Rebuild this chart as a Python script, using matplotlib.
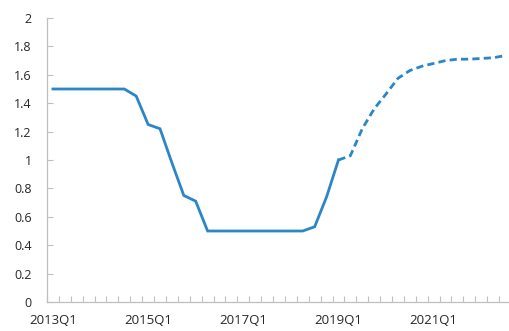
import matplotlib
matplotlib.use("Agg")
import matplotlib.pyplot as plt
from matplotlib.ticker import FixedLocator, FuncFormatter

plt.rcParams['font.family'] = ['Open Sans', 'DejaVu Sans']

# quarterly categories 2013Q1 .. 2022Q3
quarters = [f"{y}Q{q}" for y in range(2013, 2023) for q in range(1, 5)][:39]

# actual values (2013Q1 .. 2019Q1)
actual = [1.5, 1.5, 1.5, 1.5, 1.5, 1.5, 1.5, 1.45, 1.25, 1.22,
          0.98, 0.75, 0.71, 0.5, 0.5, 0.5, 0.5, 0.5, 0.5, 0.5,
          0.5, 0.5, 0.53, 0.74, 1.0]
# projection (2019Q1 .. 2022Q3)
projection = [1.0, 1.03, 1.22, 1.36, 1.465, 1.575, 1.63, 1.66, 1.68, 1.70,
              1.71, 1.71, 1.715, 1.72, 1.735]

label_every = 8
color = '#2a86c8'
grey = '#bfbfbf'

fig = plt.figure(figsize=(5.10, 3.31), dpi=100)
ax = fig.add_axes([47 / 510, 29 / 331, 1 - 47 / 510, 284 / 331])

x_act = list(range(len(actual)))
x_proj = list(range(len(actual) - 1, len(actual) - 1 + len(projection)))
ax.plot(x_act, actual, color=color, lw=2.0, solid_joinstyle='miter')
ax.plot(x_proj, projection, color=color, lw=2.0, dashes=(2.6, 1.5))

ax.set_xlim(-0.5, 38.42)
ax.set_ylim(0, 2)

ax.set_yticks([i / 5 for i in range(11)])
ax.yaxis.set_major_formatter(FuncFormatter(lambda v, p: f"{v:g}"))

major = list(range(0, len(quarters), label_every))
ax.xaxis.set_major_locator(FixedLocator(major))
ax.set_xticklabels([quarters[i] for i in major])
ax.xaxis.set_minor_locator(FixedLocator([i - 0.5 for i in range(len(quarters) + 1)]))

ax.tick_params(axis='x', which='major', length=0, pad=9, labelsize=9.5, colors='#262626')
ax.tick_params(axis='x', which='minor', direction='in', length=4, width=0.8, color=grey)
ax.tick_params(axis='y', direction='in', length=4, width=0.8, color=grey, pad=11,
               labelsize=9, labelcolor='#262626')

for s in ['top', 'right']:
    ax.spines[s].set_visible(False)
for s in ['left', 'bottom']:
    ax.spines[s].set_color(grey)
    ax.spines[s].set_linewidth(0.9)

fig.savefig("out.png", dpi=100)
